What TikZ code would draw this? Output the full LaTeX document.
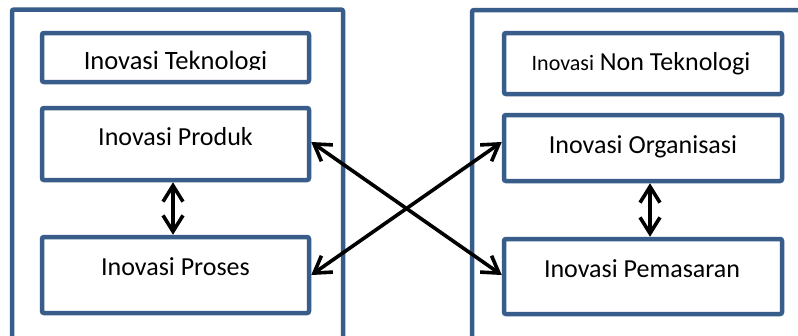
\documentclass[tikz,border=0pt]{standalone}
\usepackage{fontspec}
\setmainfont{Carlito}
\usetikzlibrary{arrows.meta}
\definecolor{boxblue}{HTML}{385D8A}
\begin{document}
\begin{tikzpicture}[x=1pt,y=-1pt,
  panel/.style={draw=boxblue, line width=4.5pt, rounded corners=2pt, rectangle, inner sep=0pt},
  box/.style={draw=boxblue, line width=4.5pt, rounded corners=2pt, rectangle, inner sep=0pt, minimum width=267pt, fill=white},
  rbox/.style={box, minimum width=278pt},
  lbl/.style={anchor=base, inner sep=0pt, font=\fontsize{26}{31}\selectfont},
  link/.style={line width=3.6pt, {Straight Barb[length=16pt,width=20pt]}-{Straight Barb[length=16pt,width=20pt]}}
]
\useasboundingbox (0,0) rectangle (798,335);
\fill[white] (0,0) rectangle (798,335);
% outer panels
\node[panel, minimum width=331pt, minimum height=352pt] (leftpanel) at (177.5,185.5) {};
\node[panel, minimum width=350pt, minimum height=352pt] (rightpanel) at (647,186) {};
% left boxes
\node[box, minimum height=49pt] (tek) at (175.5,57.5) {};
\node[box, minimum height=72pt] (produk) at (175.5,144) {};
\node[box, minimum height=76pt] (proses) at (175.5,275) {};
% right boxes
\node[rbox, minimum height=61pt] (nontek) at (643,63.5) {};
\node[rbox, minimum height=66pt] (organisasi) at (643,148) {};
\node[rbox, minimum height=75pt] (pemasaran) at (643,276.5) {};
% texts
\begin{scope}
\clip (40,30) rectangle (311,69.5);
\node[lbl, font=\fontsize{26.5}{31}\selectfont] (tektext) at (175.5,69) {Inovasi Teknologi};
\end{scope}
\node[lbl] (produktext) at (175.5,145) {Inovasi Produk};
\node[lbl] (prosestext) at (175.5,275) {Inovasi Proses};
\node[lbl] (nontektext) at (641,70) {{\fontsize{22}{26}\selectfont Inovasi} Non Teknologi};
\node[lbl] (orgtext) at (643,153) {Inovasi Organisasi};
\node[lbl] (pemtext) at (642,277) {Inovasi Pemasaran};
% connectors
\draw[link] ([xshift=-2.5pt]produk.south) -- ([xshift=-2.5pt]proses.north);
\draw[link] ([xshift=7pt]organisasi.south) -- ([xshift=7pt]pemasaran.north);
\draw[link] ([yshift=2pt]produk.east) -- ([yshift=1.5pt]pemasaran.west);
\draw[link] (proses.east) -- ([yshift=6pt]organisasi.west);
\end{tikzpicture}
\end{document}
